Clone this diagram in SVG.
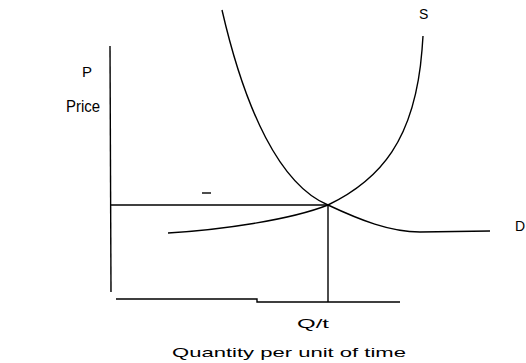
<svg xmlns="http://www.w3.org/2000/svg" width="526" height="363" viewBox="0 0 526 363">
<style>
.ln{fill:none;stroke:#000;stroke-width:1.4}
.t{font-family:"Liberation Sans",Arial,sans-serif;fill:#000}
</style>
<rect width="526" height="363" fill="#fff"/>
<g id="axes">
<line class="ln" x1="110" y1="46" x2="111" y2="292"/>
<polyline class="ln" points="116,299 257,299 257,302 400,302"/>
</g>
<g id="connectors">
<line class="ln" x1="111" y1="205" x2="328" y2="205"/>
<line class="ln" x1="328" y1="205" x2="328" y2="302"/>
<line class="ln" x1="202" y1="193" x2="211" y2="193"/>
</g>
<g id="demand">
<path class="ln" d="M222,10 C245,110 280,185 328,205 C360,220 390,232 420,232 L490,231"/>
<text class="t" x="515" y="231" font-size="14">D</text>
</g>
<g id="supply">
<path class="ln" d="M168,233 C220,230 290,220 328,205 C380,180 415,140 422,50 L423,36"/>
<text class="t" x="419" y="19" font-size="14">S</text>
</g>
<g id="labels">
<text class="t" x="82" y="77" font-size="15">P</text>
<text class="t" x="66" y="112" font-size="16" textLength="34" lengthAdjust="spacingAndGlyphs">Price</text>
<text class="t" x="297" y="328" font-size="13" textLength="32" lengthAdjust="spacingAndGlyphs">Q/t</text>
<text class="t" x="172" y="357" font-size="13" textLength="234" lengthAdjust="spacingAndGlyphs">Quantity per unit of time</text>
</g>
</svg>
